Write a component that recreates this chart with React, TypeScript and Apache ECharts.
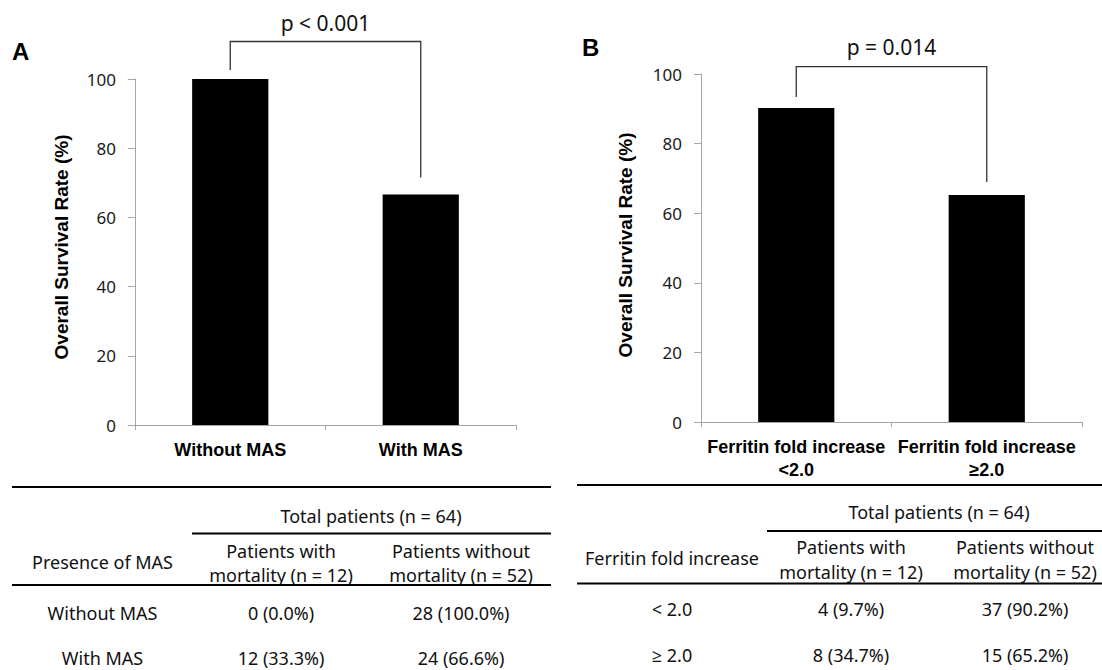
import React, { useEffect, useRef } from "react";
import * as echarts from "echarts";

// ---- data ----
const categoriesA = ["Without MAS", "With MAS"];
const survivalA = [100, 66.6];
const categoriesB = ["Ferritin fold increase\n<2.0", "Ferritin fold increase\n≥2.0"];
const survivalB = [90.2, 65.2];
const yMin = 0;
const yMax = 100;
const yInterval = 20;
const yTitle = "Overall Survival Rate (%)";
const pValueA = "p < 0.001";
const pValueB = "p = 0.014";
const panelLabels = ["A", "B"];

const totalLabel = "Total patients (n = 64)";
const columnHeaders = ["Patients with\nmortality (n = 12)", "Patients without\nmortality (n = 52)"];
const rowHeaderA = "Presence of MAS";
const rowHeaderB = "Ferritin fold increase";
const rowsA = [
  ["Without MAS", "0 (0.0%)", "28 (100.0%)"],
  ["With MAS", "12 (33.3%)", "24 (66.6%)"],
];
const rowsB = [
  ["< 2.0", "4 (9.7%)", "37 (90.2%)"],
  ["≥ 2.0", "8 (34.7%)", "15 (65.2%)"],
];

// ---- layout (pixels) ----
const REG = "'Noto Sans', 'Open Sans', sans-serif";
const BOLD = "'Liberation Sans', Arial, sans-serif";

const panels = [
  {
    grid: { left: 135, top: 79, width: 381, height: 346 },
    label: { x: 12, y: 51 },
    yTitle: { x: 61.5, y: 247 },
    bracket: { levelAboveTop: 37.5, leftGap: 9, rightGap: 17, textAbove: 19 },
    p: pValueA,
    table: {
      left: 12, right: 551, subLeft: 192,
      topLine: 487, totalY: 516, subLine: 533.5, headY: 562, headLines: [551, 575], headLine: 585,
      rowY: [613, 658], cols: [102.5, 281, 461], totalX: 371,
      rowHeader: rowHeaderA, rows: rowsA,
    },
  },
  {
    grid: { left: 701, top: 74, width: 381, height: 348 },
    label: { x: 582, y: 47 },
    yTitle: { x: 625, y: 245 },
    bracket: { levelAboveTop: 7.3, leftGap: 11, rightGap: 13, textAbove: 20 },
    p: pValueB,
    table: {
      left: 577, right: 1102, subLeft: 767,
      topLine: 485, totalY: 512, subLine: 531, headY: 558, headLines: [547, 571.5], headLine: 583.5,
      rowY: [609, 655], cols: [672, 851, 1025], totalX: 939,
      rowHeader: rowHeaderB, rows: rowsB,
    },
  },
];

function txt(text: string, x: number, y: number, font: string, size: number, weight = "normal", extra: any = {}) {
  return {
    type: "text",
    x,
    y,
    silent: true,
    style: {
      text,
      fontFamily: font,
      fontSize: size,
      fontWeight: weight,
      fill: "#111",
      align: "center",
      verticalAlign: "middle",
      textAlign: "center",
      textVerticalAlign: "middle",
      ...extra,
    },
  };
}

function hline(x1: number, x2: number, y: number, w = 2) {
  return {
    type: "line",
    silent: true,
    shape: { x1, y1: y, x2, y2: y },
    style: { stroke: "#000", lineWidth: w },
  };
}

export default function App() {
  const ref = useRef<HTMLDivElement>(null);

  useEffect(() => {
    if (!ref.current) return;
    const chart = echarts.init(ref.current, null, { renderer: "svg" });
    const datasets = [
      { cats: categoriesA, vals: survivalA },
      { cats: categoriesB, vals: survivalB },
    ];
    const option: any = {
      animation: false,
      backgroundColor: "#fff",
      grid: panels.map((p) => ({ ...p.grid, containLabel: false })),
      xAxis: datasets.map((d, i) => ({
        type: "category",
        gridIndex: i,
        data: d.cats,
        axisLine: { show: true, lineStyle: { color: "#a6a6a6", width: 1 } },
        axisTick: { show: true, length: 5, lineStyle: { color: "#a6a6a6" } },
        axisLabel: {
          interval: 0,
          margin: 13,
          fontFamily: BOLD,
          fontWeight: "bold",
          fontSize: 18,
          lineHeight: 23,
          color: "#000",
        },
        splitLine: { show: false },
      })),
      yAxis: datasets.map((d, i) => ({
        type: "value",
        gridIndex: i,
        min: yMin,
        max: yMax,
        interval: yInterval,
        axisLine: { show: true, lineStyle: { color: "#a6a6a6", width: 1 } },
        axisTick: { show: true, length: 7, lineStyle: { color: "#a6a6a6" } },
        axisLabel: { margin: 19, fontFamily: REG, fontSize: 17, color: "#1a1a1a" },
        splitLine: { show: false },
      })),
      series: datasets.map((d, i) => ({
        type: "bar",
        xAxisIndex: i,
        yAxisIndex: i,
        data: d.vals,
        barWidth: "40%",
        itemStyle: { color: "#000" },
      })),
    };
    chart.setOption(option);

    const graphics: any[] = [];
    panels.forEach((p, i) => {
      const vals = datasets[i].vals;
      const px = (cat: number, v: number) =>
        chart.convertToPixel({ xAxisIndex: i, yAxisIndex: i }, [cat, v]) as number[];
      const left = px(0, vals[0]);
      const right = px(1, vals[1]);
      const top = px(0, yMax)[1];
      const level = top - p.bracket.levelAboveTop;
      graphics.push({
        type: "polyline",
        silent: true,
        shape: {
          points: [
            [left[0], left[1] - p.bracket.leftGap],
            [left[0], level],
            [right[0], level],
            [right[0], right[1] - p.bracket.rightGap],
          ],
        },
        style: { stroke: "#333", lineWidth: 1.3, fill: null },
      });
      graphics.push(txt(p.p, (left[0] + right[0]) / 2, level - p.bracket.textAbove, REG, 21));
      // panel letter
      graphics.push(txt(panelLabels[i], p.label.x, p.label.y, BOLD, 24, "bold", {
        align: "left", textAlign: "left", fill: "#000",
      }));
      // y title
      graphics.push({
        ...txt(yTitle, 0, 0, BOLD, 19, "bold", { fill: "#000" }),
        x: p.yTitle.x,
        y: p.yTitle.y,
        rotation: Math.PI / 2,
      });
      // table
      const t = p.table;
      graphics.push(hline(t.left, t.right, t.topLine, 2));
      graphics.push(txt(totalLabel, t.totalX, t.totalY, REG, 18));
      graphics.push(hline(t.subLeft, t.right, t.subLine, 2));
      graphics.push(txt(t.rowHeader, t.cols[0], t.headY, REG, 18));
      columnHeaders.forEach((h, k) => {
        const lines = h.split("\n");
        lines.forEach((ln, m) => graphics.push(txt(ln, t.cols[k + 1], t.headLines[m], REG, 18)));
      });
      graphics.push(hline(t.left, t.right, t.headLine, 2));
      t.rows.forEach((row, r) => {
        row.forEach((cell, c) => graphics.push(txt(cell, t.cols[c], t.rowY[r], REG, 18)));
      });
    });
    chart.setOption({ graphic: { elements: graphics } });

    return () => chart.dispose();
  }, []);

  return (
    <div
      ref={ref}
      style={{ position: "absolute", left: 0, top: 0, width: 1102, height: 670, background: "#fff" }}
    />
  );
}
